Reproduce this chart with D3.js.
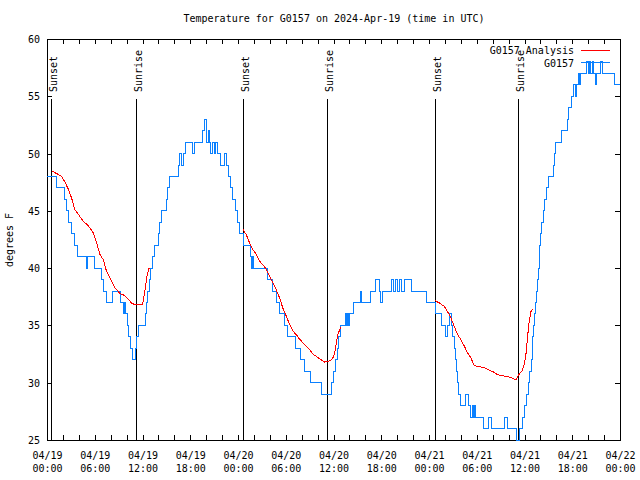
<!DOCTYPE html>
<html><head><meta charset="utf-8">
<script src="https://cdn.jsdelivr.net/npm/d3@7"></script>
<style>
body{margin:0;background:#fff;}
svg text{font-family:"DejaVu Sans Mono","Liberation Mono",monospace;font-size:10px;fill:#000;}
</style></head>
<body><svg id="c" width="640" height="480"></svg>
<script>
// ---- data (hours after 2024-04-19 00:00 UTC) ----
const titleText = "Temperature for G0157 on 2024-Apr-19 (time in UTC)";
const yLabel = "degrees F";
const yTicks = [25, 30, 35, 40, 45, 50, 55, 60];
const seriesNames = ["G0157 Analysis", "G0157"];

// observed G0157 temperatures: change points [hour, degF]
const obsHours = [0,1.2,2.2,2.45,2.75,3.1,3.45,3.8,4.95,5.15,5.95,6.8,7.05,7.45,8.2,9.25,9.6,9.75,9.9,10.1,10.3,10.45,10.7,11.15,11.3,11.55,12.35,12.5,12.65,12.85,13.0,13.2,13.5,
 13.95,14.15,14.4,15.05,15.2,15.45,16.5,16.7,16.95,17.15,17.4,18.25,18.55,19.5,19.85,20.05,20.25,20.4,20.6,20.8,21.0,21.2,21.4,21.85,22.3,22.6,22.8,23.05,23.35,23.65,23.95,24.25,
 24.65,25.6,25.75,25.8,25.9,27.75,28.35,28.8,29.2,29.8,30.25,31.2,31.85,32.4,33.05,34.55,35.8,36.05,36.3,36.5,36.65,36.9,
 37.45,37.65,37.75,37.85,37.95,38.55,39.35,39.5,40.6,41.3,41.75,41.95,42.15,43.35,43.55,43.8,44.1,44.3,44.5,44.95,45.85,47.65,
 48.8,49.6,50.1,50.35,50.6,50.85,51.0,51.15,51.3,51.45,51.6,51.75,51.95,52.6,53.0,53.2,53.5,53.6,53.75,53.9,54.9,55.45,55.85,57.5,57.85,59.0,59.35,
 59.8,60.05,60.25,60.45,60.65,60.85,60.95,61.05,61.15,61.3,61.4,61.5,61.6,61.75,61.85,61.9,61.95,62.1,62.35,62.55,62.8,63.05,63.65,63.8,63.95,64.65,65.35,65.55,65.85,66.15,66.4,66.5,66.8,66.9,67.05,67.85,68.05,68.2,68.35,68.5,68.65,68.9,69.05,69.55,69.75,71.35,72];
const obsTemps = [48,47,46,45,44,43,42,41,40,41,40,39,38,37,38,37,36,37,36,35,34,33,32,33,34,35,36,37,38,39,40,41,42,
 43,44,45,46,47,48,49,50,49,50,51,50,51,52,53,51,52,51,50,51,50,51,50,49,50,49,48,47,46,45,44,43,
 42,41,40,41,40,39,38,37,36,35,34,33,32,31,30,29,30,31,32,33,34,35,
 36,35,36,35,36,37,38,37,38,39,38,37,38,39,38,39,38,39,38,39,38,37,
 36,35,34,35,36,35,34,33,32,31,30,29,28,29,28,27,28,27,28,27,26,27,26,27,26,25,26,
 27,28,29,30,31,32,33,34,35,36,37,38,39,40,41,42,43,44,45,46,47,48,49,50,51,52,53,54,55,56,55,56,57,56,57,58,57,58,57,58,57,56,57,58,57,56,56];

// analysis (three overnight segments)
const anaHours1 = [0.55,1.22,1.84,2.26,2.67,3.1,3.5,3.93,4.55,5.18,5.8,6.23,6.65,7.06,7.49,7.9,8.53,9.16,9.78,10.2,10.7,11.25,12.0,12.3,12.55,12.83];
const anaTemps1 = [48.5,48.25,48.0,47.5,46.9,46.1,45.1,44.7,44.1,43.7,43.1,42.2,41.2,40.75,39.7,39.15,38.3,37.8,37.6,37.3,36.9,36.8,36.8,38.0,39.3,40.0];
const anaHours2 = [24.62,25.05,25.46,25.88,26.3,26.72,27.13,27.56,27.97,28.39,28.81,29.23,29.64,30.07,30.48,30.9,31.32,31.74,32.15,32.58,32.99,33.41,34.03,34.46,34.87,35.29,35.71,36.04,36.25,36.42,36.59,36.97];
const anaTemps2 = [43.4,42.9,42.2,41.6,41.2,40.6,40.3,39.9,39.3,38.7,38.1,37.4,36.5,35.8,35.1,34.5,34.2,33.8,33.5,33.2,32.9,32.5,32.2,32.0,31.8,31.85,32.0,32.3,33.0,33.75,34.3,34.9];
const anaHours3 = [48.76,49.3,49.92,50.34,50.76,51.18,51.59,52.02,52.43,52.85,53.27,53.69,54.31,54.94,55.57,56.2,56.61,57.24,57.87,58.49,58.92,59.33,59.75,59.96,60.17,60.37,60.59,60.8,61.0];
const anaTemps3 = [37.16,36.96,36.66,36.2,35.65,34.9,34.2,33.75,33.2,32.6,32.15,31.5,31.4,31.3,31.1,30.9,30.7,30.6,30.55,30.4,30.25,30.75,31.1,31.6,32.4,33.9,35.35,36.2,36.4];

// sun events
const sunHours = [0.54, 11.2, 24.62, 35.16, 48.7, 59.24];
const sunLabels = ["Sunset","Sunrise","Sunset","Sunrise","Sunset","Sunrise"];

// ---- drawing ----
const START = Date.UTC(2024, 3, 19);
const toDate = h => new Date(START + h * 3600e3);
const svg = d3.select("#c");
const L = 47, R = 620, T = 39, B = 440;
const x = d3.scaleUtc().domain([toDate(0), toDate(72)]).range([L, R]);
const y = d3.scaleLinear().domain([25, 60]).range([B, T]);

svg.append("rect").attr("width",640).attr("height",480).attr("fill","#fff");

const tick2h = d3.range(0, 73, 2).map(toDate);
const tick6h = d3.range(0, 73, 6).map(toDate);

// axes (inward ticks)
svg.append("g").attr("transform",`translate(0,${B})`)
  .call(d3.axisBottom(x).tickValues(tick2h).tickSize(-5).tickFormat(""));
svg.append("g").attr("transform",`translate(0,${T})`)
  .call(d3.axisTop(x).tickValues(tick2h).tickSize(-5).tickFormat(""));
svg.append("g").attr("transform",`translate(${L},0)`)
  .call(d3.axisLeft(y).tickValues(yTicks).tickSize(-5).tickFormat(""));
svg.append("g").attr("transform",`translate(${R},0)`)
  .call(d3.axisRight(y).tickValues(yTicks).tickSize(-5).tickFormat(""));
svg.selectAll(".domain").remove();
svg.selectAll(".tick line").attr("stroke","#000").attr("shape-rendering","crispEdges");

// border
svg.append("rect").attr("x",L+0.5).attr("y",T+0.5).attr("width",R-L).attr("height",B-T)
  .attr("fill","none").attr("stroke","#000").attr("shape-rendering","crispEdges");

// y tick labels
svg.append("g").selectAll("text").data(yTicks).join("text")
  .attr("x",40).attr("y",d=>y(d)+4).attr("text-anchor","end").text(d=>d);

// x tick labels (two lines)
const fDay = d3.utcFormat("%m/%d"), fTime = d3.utcFormat("%H:%M");
const xl = svg.append("g").selectAll("text").data(tick6h).join("text")
  .attr("text-anchor","middle");
xl.append("tspan").attr("x",d=>x(d)+0.5).attr("y",459).text(d=>fDay(d));
xl.append("tspan").attr("x",d=>x(d)+0.5).attr("y",472).text(d=>fTime(d));

// title & y label
svg.append("text").attr("x",334).attr("y",22).attr("text-anchor","middle").text(titleText);
svg.append("text").attr("transform","translate(13,240) rotate(-90)").attr("text-anchor","middle").text(yLabel);

// sun lines
const sg = svg.append("g");
sunHours.forEach((h,i)=>{
  const xx = Math.round(x(toDate(h))) + 0.5;
  sg.append("line").attr("x1",xx).attr("x2",xx).attr("y1",B).attr("y2",99)
    .attr("stroke","#000").attr("stroke-width",1).attr("shape-rendering","crispEdges");
  sg.append("text").attr("transform",`translate(${xx+5},92) rotate(-90)`).text(sunLabels[i]);
});

// observed series
const obs = obsHours.map((h,i)=>({d:toDate(h), v:obsTemps[i]}));
const stepLine = d3.line().x(p=>x(p.d)).y(p=>y(p.v)).curve(d3.curveStepAfter);
svg.append("path").datum(obs).attr("d",stepLine).attr("fill","none")
  .attr("stroke","#0a80ff").attr("stroke-width",1).attr("shape-rendering","crispEdges");

// analysis segments
const line = d3.line().x(p=>x(p.d)).y(p=>y(p.v));
[[anaHours1,anaTemps1],[anaHours2,anaTemps2],[anaHours3,anaTemps3]].forEach(([hs,ts])=>{
  const seg = hs.map((h,i)=>({d:toDate(h), v:ts[i]}));
  svg.append("path").datum(seg).attr("d",line).attr("fill","none")
    .attr("stroke","#ff0000").attr("stroke-width",1).attr("shape-rendering","crispEdges");
});

// legend
const legColors = ["#ff0000","#0a80ff"];
seriesNames.forEach((n,i)=>{
  const ly = 50 + i*12.5;
  svg.append("text").attr("x",574).attr("y",ly+4).attr("text-anchor","end").text(n);
  svg.append("line").attr("x1",581).attr("x2",610).attr("y1",ly).attr("y2",ly)
    .attr("stroke",legColors[i]).attr("stroke-width",1).attr("shape-rendering","crispEdges");
});
</script></body></html>
